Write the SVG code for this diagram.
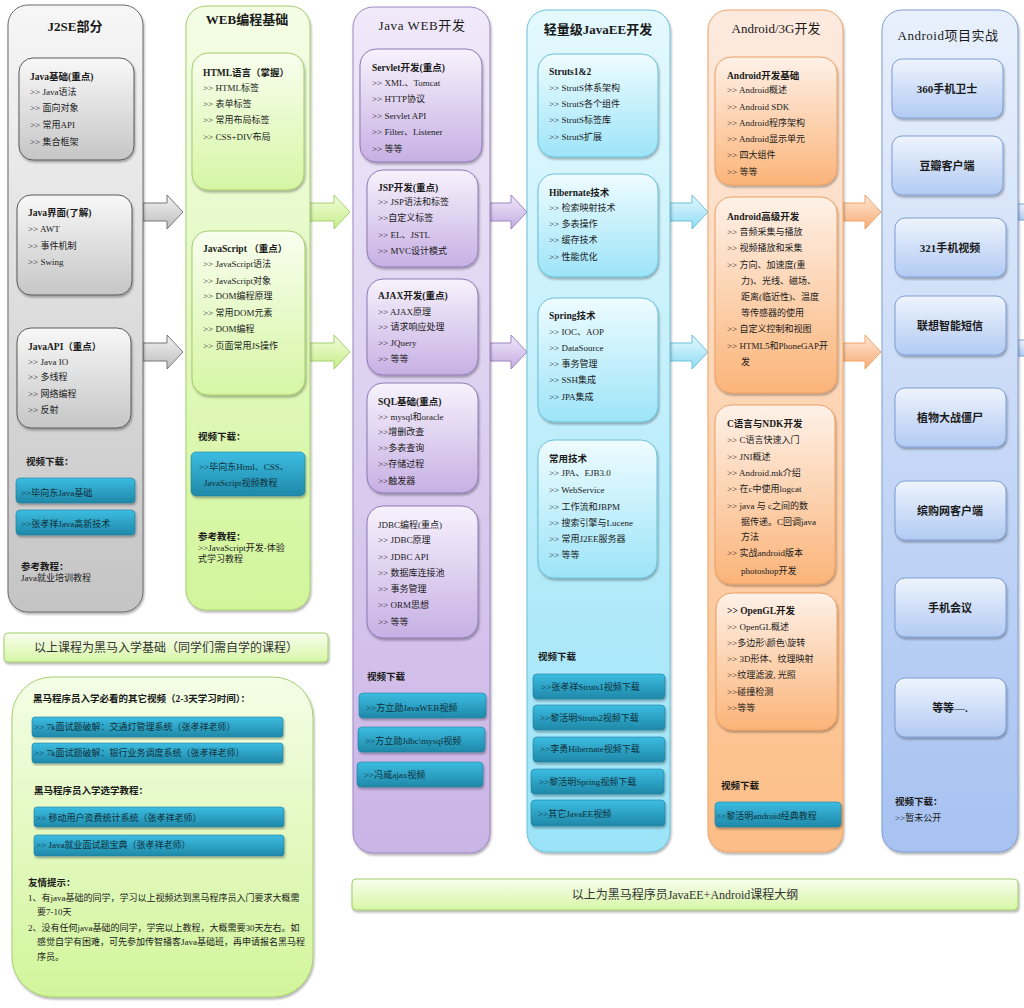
<svg xmlns="http://www.w3.org/2000/svg" width="1024" height="1008" viewBox="0 0 1024 1008">
<defs>
<linearGradient id="grayO" x1="0" y1="0" x2="0" y2="1"><stop offset="0" stop-color="#f6f6f6"/><stop offset="1" stop-color="#c4c4c4"/></linearGradient>
<linearGradient id="grayI" x1="0" y1="0" x2="0" y2="1"><stop offset="0" stop-color="#f8f8f8"/><stop offset="1" stop-color="#c6c6c6"/></linearGradient>
<linearGradient id="greenO" x1="0" y1="0" x2="0" y2="1"><stop offset="0" stop-color="#f4fde6"/><stop offset="1" stop-color="#d2f59b"/></linearGradient>
<linearGradient id="greenI" x1="0" y1="0" x2="0" y2="1"><stop offset="0" stop-color="#f9feef"/><stop offset="1" stop-color="#d6f6a5"/></linearGradient>
<linearGradient id="purpleO" x1="0" y1="0" x2="0" y2="1"><stop offset="0" stop-color="#f0e9f9"/><stop offset="1" stop-color="#c9b4e6"/></linearGradient>
<linearGradient id="purpleI" x1="0" y1="0" x2="0" y2="1"><stop offset="0" stop-color="#f7f2fc"/><stop offset="1" stop-color="#c7b0e4"/></linearGradient>
<linearGradient id="cyanO" x1="0" y1="0" x2="0" y2="1"><stop offset="0" stop-color="#e3f9fe"/><stop offset="1" stop-color="#9be3f7"/></linearGradient>
<linearGradient id="cyanI" x1="0" y1="0" x2="0" y2="1"><stop offset="0" stop-color="#eefcff"/><stop offset="1" stop-color="#9de4f8"/></linearGradient>
<linearGradient id="orangeO" x1="0" y1="0" x2="0" y2="1"><stop offset="0" stop-color="#fdeadf"/><stop offset="1" stop-color="#fcbe86"/></linearGradient>
<linearGradient id="orangeI" x1="0" y1="0" x2="0" y2="1"><stop offset="0" stop-color="#fef1e8"/><stop offset="1" stop-color="#fbb479"/></linearGradient>
<linearGradient id="blueO" x1="0" y1="0" x2="0" y2="1"><stop offset="0" stop-color="#e8f0fc"/><stop offset="1" stop-color="#a7c2f1"/></linearGradient>
<linearGradient id="blueI" x1="0" y1="0" x2="0" y2="1"><stop offset="0" stop-color="#eef4fd"/><stop offset="1" stop-color="#b2caf3"/></linearGradient>
<linearGradient id="btnG" x1="0" y1="0" x2="0" y2="1"><stop offset="0" stop-color="#3cbde2"/><stop offset="1" stop-color="#1f88a8"/></linearGradient>
<linearGradient id="aGray" x1="0" y1="0" x2="0" y2="1"><stop offset="0" stop-color="#f2f2f2"/><stop offset="1" stop-color="#bdbdbd"/></linearGradient>
<linearGradient id="aGreen" x1="0" y1="0" x2="0" y2="1"><stop offset="0" stop-color="#f2fcdc"/><stop offset="1" stop-color="#c6ee88"/></linearGradient>
<linearGradient id="aPurple" x1="0" y1="0" x2="0" y2="1"><stop offset="0" stop-color="#f1e8f9"/><stop offset="1" stop-color="#c3ace2"/></linearGradient>
<linearGradient id="aCyan" x1="0" y1="0" x2="0" y2="1"><stop offset="0" stop-color="#e6f9fe"/><stop offset="1" stop-color="#8fdcf4"/></linearGradient>
<linearGradient id="aOrange" x1="0" y1="0" x2="0" y2="1"><stop offset="0" stop-color="#fde7d6"/><stop offset="1" stop-color="#f7ad74"/></linearGradient>
<filter id="sh" x="-10%" y="-10%" width="120%" height="125%"><feDropShadow dx="1" dy="2" stdDeviation="1.2" flood-color="#000" flood-opacity="0.3"/></filter>
<style>
text{font-family:"Liberation Serif","Noto Sans CJK SC",serif;fill:#1a1a1a}
.i{font-size:9px}
.h{font-size:9.5px;font-weight:bold}
.ct{font-size:13px;text-anchor:middle}
.bt{font-size:9px;fill:#10303a}
.p{font-size:11px;font-weight:bold;text-anchor:middle}
.bn{font-size:12px;text-anchor:middle;fill:#333}
.btn{fill:url(#btnG);stroke:#1c7f9d;stroke-width:0.6;filter:url(#sh)}
.gO{fill:url(#grayO);stroke:#6a6a6a;stroke-width:1;filter:url(#sh)}
.gI{fill:url(#grayI);stroke:#5a5a5a;stroke-width:1;filter:url(#sh)}
.grO{fill:url(#greenO);stroke:#a6cf70;stroke-width:1;filter:url(#sh)}
.grI{fill:url(#greenI);stroke:#a3cc6d;stroke-width:1;filter:url(#sh)}
.pO{fill:url(#purpleO);stroke:#9c86c0;stroke-width:1;filter:url(#sh)}
.pI{fill:url(#purpleI);stroke:#8e78b6;stroke-width:1;filter:url(#sh)}
.cO{fill:url(#cyanO);stroke:#6cc1da;stroke-width:1;filter:url(#sh)}
.cI{fill:url(#cyanI);stroke:#6cbfd8;stroke-width:1;filter:url(#sh)}
.oO{fill:url(#orangeO);stroke:#eea468;stroke-width:1;filter:url(#sh)}
.oI{fill:url(#orangeI);stroke:#eca064;stroke-width:1;filter:url(#sh)}
.bO{fill:url(#blueO);stroke:#7f9fd4;stroke-width:1;filter:url(#sh)}
.bI{fill:url(#blueI);stroke:#7f9fd4;stroke-width:1;filter:url(#sh)}
.ag{fill:url(#aGray);stroke:#777}
.agr{fill:url(#aGreen);stroke:#a6cf70}
.ap{fill:url(#aPurple);stroke:#9c86c0}
.ac{fill:url(#aCyan);stroke:#6cc1da}
.ao{fill:url(#aOrange);stroke:#eea468}
.ab{fill:url(#blueI);stroke:#7f9fd4}
</style>
</defs>
<rect width="1024" height="1008" fill="#ffffff"/>

<g id="connectors">
<path class="ag" d="M143 203H167V195L183 212L167 229V221H143Z"/>
<path class="ag" d="M143 343H167V335L183 352L167 369V361H143Z"/>
<path class="agr" d="M310 203H334V195L350 212L334 229V221H310Z"/>
<path class="agr" d="M310 343H334V335L350 352L334 369V361H310Z"/>
<path class="ap" d="M490 203H511V195L527 212L511 229V221H490Z"/>
<path class="ap" d="M490 343H511V335L527 352L511 369V361H490Z"/>
<path class="ac" d="M670 203H692V195L708 212L692 229V221H670Z"/>
<path class="ac" d="M670 343H692V335L708 352L692 369V361H670Z"/>
<path class="ao" d="M843 203H865V195L881 212L865 229V221H843Z"/>
<path class="ao" d="M843 343H865V335L881 352L865 369V361H843Z"/>
<rect class="ab" x="1018" y="204" width="8" height="16"/>
<rect class="ab" x="1018" y="340" width="8" height="16"/>
</g>

<g id="col-j2se">
<rect class="gO" x="8" y="5" width="135" height="607" rx="20"/>
<text class="ct" x="75" y="31" font-weight="bold">J2SE部分</text>
<g id="j2se-basic">
<rect class="gI" x="19" y="58" width="115" height="102" rx="14"/>
<text class="h" x="30" y="80">Java基础(重点)</text>
<text class="i" x="30" y="95">&gt;&gt; Java语法</text>
<text class="i" x="30" y="111">&gt;&gt; 面向对象</text>
<text class="i" x="30" y="128">&gt;&gt; 常用API</text>
<text class="i" x="30" y="145">&gt;&gt; 集合框架</text>
</g>
<g id="j2se-gui">
<rect class="gI" x="17" y="195" width="115" height="100" rx="14"/>
<text class="h" x="28" y="216">Java界面(了解)</text>
<text class="i" x="28" y="232">&gt;&gt; AWT</text>
<text class="i" x="28" y="249">&gt;&gt; 事件机制</text>
<text class="i" x="28" y="265">&gt;&gt; Swing</text>
</g>
<g id="j2se-api">
<rect class="gI" x="17" y="328" width="114" height="100" rx="14"/>
<text class="h" x="28" y="350">JavaAPI（重点）</text>
<text class="i" x="28" y="365">&gt;&gt; Java IO</text>
<text class="i" x="28" y="380">&gt;&gt; 多线程</text>
<text class="i" x="28" y="397">&gt;&gt; 网络编程</text>
<text class="i" x="28" y="413">&gt;&gt; 反射</text>
</g>
<text class="h" x="26" y="465" font-size="9">视频下载：</text>
<rect class="btn" x="16" y="478" width="119" height="25" rx="4"/>
<text class="bt" x="21" y="496">&gt;&gt;毕向东Java基础</text>
<rect class="btn" x="16" y="510" width="119" height="25" rx="4"/>
<text class="bt" x="21" y="527">&gt;&gt;张孝祥Java高新技术</text>
<text class="h" x="21" y="570" font-size="9">参考教程：</text>
<text class="i" x="21" y="581">Java就业培训教程</text>
</g>

<g id="col-web">
<rect class="grO" x="186" y="6" width="124" height="604" rx="20"/>
<text class="ct" x="247" y="24" font-size="12" font-weight="bold">WEB编程基础</text>
<g id="web-html">
<rect class="grI" x="192" y="53" width="112" height="137" rx="16"/>
<text class="h" x="203" y="76">HTML语言（掌握）</text>
<text class="i" x="203" y="91">&gt;&gt; HTML标签</text>
<text class="i" x="203" y="107">&gt;&gt; 表单标签</text>
<text class="i" x="203" y="123">&gt;&gt; 常用布局标签</text>
<text class="i" x="203" y="140">&gt;&gt; CSS+DIV布局</text>
</g>
<g id="web-js">
<rect class="grI" x="192" y="231" width="113" height="164" rx="16"/>
<text class="h" x="203" y="252">JavaScript （重点）</text>
<text class="i" x="203" y="267">&gt;&gt; JavaScript语法</text>
<text class="i" x="203" y="284">&gt;&gt; JavaScript对象</text>
<text class="i" x="203" y="299">&gt;&gt; DOM编程原理</text>
<text class="i" x="203" y="316">&gt;&gt; 常用DOM元素</text>
<text class="i" x="203" y="332">&gt;&gt; DOM编程</text>
<text class="i" x="203" y="349">&gt;&gt; 页面常用JS操作</text>
</g>
<text class="h" x="198" y="440" font-size="9">视频下载：</text>
<rect class="btn" x="191" y="452" width="114" height="44" rx="5"/>
<text class="bt" x="199" y="470">&gt;&gt;毕向东Html、CSS、</text>
<text class="bt" x="204" y="486">JavaScript视频教程</text>
<text class="h" x="198" y="540" font-size="9">参考教程：</text>
<text class="i" x="198" y="551">&gt;&gt;JavaScript开发-体验</text>
<text class="i" x="198" y="562">式学习教程</text>
</g>

<g id="col-javaweb">
<rect class="pO" x="353" y="7" width="137" height="846" rx="20"/>
<text class="ct" x="422" y="30" font-size="13.5" letter-spacing="0.6">Java WEB开发</text>
<g id="jw-servlet">
<rect class="pI" x="360" y="49" width="122" height="113" rx="16"/>
<text class="h" x="372" y="71">Servlet开发(重点)</text>
<text class="i" x="372" y="86">&gt;&gt; XML、Tomcat</text>
<text class="i" x="372" y="102">&gt;&gt; HTTP协议</text>
<text class="i" x="372" y="119">&gt;&gt; Servlet API</text>
<text class="i" x="372" y="135">&gt;&gt; Filter、Listener</text>
<text class="i" x="372" y="152">&gt;&gt; 等等</text>
</g>
<g id="jw-jsp">
<rect class="pI" x="367" y="170" width="111" height="97" rx="16"/>
<text class="h" x="378" y="191">JSP开发(重点)</text>
<text class="i" x="378" y="205">&gt;&gt; JSP语法和标签</text>
<text class="i" x="378" y="221">&gt;&gt;自定义标签</text>
<text class="i" x="378" y="238">&gt;&gt; EL、JSTL</text>
<text class="i" x="378" y="254">&gt;&gt; MVC设计模式</text>
</g>
<g id="jw-ajax">
<rect class="pI" x="367" y="279" width="111" height="96" rx="16"/>
<text class="h" x="378" y="299">AJAX开发(重点)</text>
<text class="i" x="378" y="315">&gt;&gt; AJAX原理</text>
<text class="i" x="378" y="330">&gt;&gt; 请求响应处理</text>
<text class="i" x="378" y="346">&gt;&gt; JQuery</text>
<text class="i" x="378" y="362">&gt;&gt; 等等</text>
</g>
<g id="jw-sql">
<rect class="pI" x="367" y="383" width="111" height="110" rx="16"/>
<text class="h" x="378" y="405">SQL基础(重点)</text>
<text class="i" x="378" y="420">&gt;&gt; mysql和oracle</text>
<text class="i" x="378" y="435">&gt;&gt;增删改查</text>
<text class="i" x="378" y="451">&gt;&gt;多表查询</text>
<text class="i" x="378" y="467">&gt;&gt;存储过程</text>
<text class="i" x="378" y="484">&gt;&gt;触发器</text>
</g>
<g id="jw-jdbc">
<rect class="pI" x="367" y="506" width="111" height="132" rx="16"/>
<text class="i" x="378" y="528" font-size="9.5">JDBC编程(重点)</text>
<text class="i" x="378" y="543">&gt;&gt; JDBC原理</text>
<text class="i" x="378" y="560">&gt;&gt; JDBC API</text>
<text class="i" x="378" y="576">&gt;&gt; 数据库连接池</text>
<text class="i" x="378" y="592">&gt;&gt; 事务管理</text>
<text class="i" x="378" y="608">&gt;&gt; ORM思想</text>
<text class="i" x="378" y="625">&gt;&gt; 等等</text>
</g>
<text class="h" x="367" y="680" font-size="9">视频下载</text>
<rect class="btn" x="359" y="693" width="127" height="25" rx="4"/>
<text class="bt" x="366" y="711">&gt;&gt;方立勋JavaWEB视频</text>
<rect class="btn" x="358" y="727" width="127" height="25" rx="4"/>
<text class="bt" x="365" y="744">&gt;&gt;方立勋Jdbc\mysql视频</text>
<rect class="btn" x="357" y="762" width="126" height="25" rx="4"/>
<text class="bt" x="364" y="778">&gt;&gt;冯威ajax视频</text>
</g>

<g id="col-javaee">
<rect class="cO" x="527" y="10" width="143" height="842" rx="20"/>
<text class="ct" x="598" y="34" font-size="11.5" font-weight="bold">轻量级JavaEE开发</text>
<g id="ee-struts">
<rect class="cI" x="538" y="54" width="120" height="103" rx="16"/>
<text class="h" x="549" y="75">Struts1&amp;2</text>
<text class="i" x="549" y="91">&gt;&gt; StrutS体系架构</text>
<text class="i" x="549" y="107">&gt;&gt; StrutS各个组件</text>
<text class="i" x="549" y="123">&gt;&gt; StrutS标签库</text>
<text class="i" x="549" y="140">&gt;&gt; StrutS扩展</text>
</g>
<g id="ee-hibernate">
<rect class="cI" x="538" y="174" width="120" height="103" rx="16"/>
<text class="h" x="549" y="196">Hibernate技术</text>
<text class="i" x="549" y="211">&gt;&gt; 检索映射技术</text>
<text class="i" x="549" y="227">&gt;&gt; 多表操作</text>
<text class="i" x="549" y="243">&gt;&gt; 缓存技术</text>
<text class="i" x="549" y="260">&gt;&gt; 性能优化</text>
</g>
<g id="ee-spring">
<rect class="cI" x="538" y="298" width="120" height="124" rx="16"/>
<text class="h" x="549" y="319">Spring技术</text>
<text class="i" x="549" y="335">&gt;&gt; IOC、AOP</text>
<text class="i" x="549" y="351">&gt;&gt; DataSource</text>
<text class="i" x="549" y="367">&gt;&gt; 事务管理</text>
<text class="i" x="549" y="383">&gt;&gt; SSH集成</text>
<text class="i" x="549" y="400">&gt;&gt; JPA集成</text>
</g>
<g id="ee-common">
<rect class="cI" x="538" y="440" width="119" height="138" rx="16"/>
<text class="h" x="549" y="462">常用技术</text>
<text class="i" x="549" y="476">&gt;&gt; JPA、EJB3.0</text>
<text class="i" x="549" y="493">&gt;&gt; WebService</text>
<text class="i" x="549" y="510">&gt;&gt; 工作流和JBPM</text>
<text class="i" x="549" y="526">&gt;&gt; 搜索引擎与Lucene</text>
<text class="i" x="549" y="542">&gt;&gt; 常用J2EE服务器</text>
<text class="i" x="549" y="558">&gt;&gt; 等等</text>
</g>
<text class="h" x="538" y="660" font-size="9">视频下载</text>
<rect class="btn" x="533" y="674" width="132" height="25" rx="4"/>
<text class="bt" x="541" y="690">&gt;&gt;张孝祥Struts1视频下载</text>
<rect class="btn" x="533" y="705" width="132" height="25" rx="4"/>
<text class="bt" x="540" y="721">&gt;&gt;黎活明Struts2视频下载</text>
<rect class="btn" x="533" y="737" width="132" height="25" rx="4"/>
<text class="bt" x="540" y="752">&gt;&gt;李勇Hibernate视频下载</text>
<rect class="btn" x="531" y="769" width="133" height="25" rx="4"/>
<text class="bt" x="539" y="785">&gt;&gt;黎活明Spring视频下载</text>
<rect class="btn" x="531" y="800" width="134" height="26" rx="4"/>
<text class="bt" x="538" y="817">&gt;&gt;其它JavaEE视频</text>
</g>

<g id="col-android">
<rect class="oO" x="708" y="10" width="135" height="842" rx="20"/>
<text class="ct" x="776" y="33" font-size="13.5">Android/3G开发</text>
<g id="and-basic">
<rect class="oI" x="715" y="57" width="122" height="128" rx="16"/>
<text class="h" x="727" y="79">Android开发基础</text>
<text class="i" x="727" y="93">&gt;&gt; Android概述</text>
<text class="i" x="727" y="110">&gt;&gt; Android SDK</text>
<text class="i" x="727" y="126">&gt;&gt; Android程序架构</text>
<text class="i" x="727" y="142">&gt;&gt; Android显示单元</text>
<text class="i" x="727" y="158">&gt;&gt; 四大组件</text>
<text class="i" x="727" y="175">&gt;&gt; 等等</text>
</g>
<g id="and-advanced">
<rect class="oI" x="715" y="197" width="122" height="196" rx="16"/>
<text class="h" x="727" y="220">Android高级开发</text>
<text class="i" x="727" y="235">&gt;&gt; 音频采集与播放</text>
<text class="i" x="727" y="251">&gt;&gt; 视频播放和采集</text>
<text class="i" x="727" y="268">&gt;&gt; 方向、加速度(重</text>
<text class="i" x="741" y="284">力)、光线、磁场、</text>
<text class="i" x="741" y="300">距离(临近性)、温度</text>
<text class="i" x="741" y="316">等传感器的使用</text>
<text class="i" x="727" y="332">&gt;&gt; 自定义控制和视图</text>
<text class="i" x="727" y="349">&gt;&gt; HTML5和PhoneGAP开</text>
<text class="i" x="741" y="365">发</text>
</g>
<g id="and-ndk">
<rect class="oI" x="715" y="405" width="120" height="179" rx="16"/>
<text class="h" x="727" y="427">C语言与NDK开发</text>
<text class="i" x="727" y="443">&gt;&gt; C语言快速入门</text>
<text class="i" x="727" y="460">&gt;&gt; JNI概述</text>
<text class="i" x="727" y="476">&gt;&gt; Android.mk介绍</text>
<text class="i" x="727" y="492">&gt;&gt; 在c中使用logcat</text>
<text class="i" x="727" y="509">&gt;&gt; java 与 c之间的数</text>
<text class="i" x="741" y="525">据传递。C回调java</text>
<text class="i" x="741" y="540">方法</text>
<text class="i" x="727" y="556">&gt;&gt; 实战android版本</text>
<text class="i" x="741" y="574">photoshop开发</text>
</g>
<g id="and-opengl">
<rect class="oI" x="716" y="593" width="121" height="137" rx="16"/>
<text class="h" x="727" y="614">&gt;&gt; OpenGL开发</text>
<text class="i" x="727" y="630">&gt;&gt; OpenGL概述</text>
<text class="i" x="727" y="646">&gt;&gt;多边形\颜色\旋转</text>
<text class="i" x="727" y="662">&gt;&gt; 3D形体、纹理映射</text>
<text class="i" x="727" y="678">&gt;&gt;纹理滤波, 光照</text>
<text class="i" x="727" y="695">&gt;&gt;碰撞检测</text>
<text class="i" x="727" y="711">&gt;&gt;等等</text>
</g>
<text class="h" x="721" y="789" font-size="9">视频下载</text>
<rect class="btn" x="715" y="802" width="126" height="25" rx="4"/>
<text class="bt" x="716" y="819">&gt;&gt;黎活明android经典教程</text>
</g>

<g id="col-projects">
<rect class="bO" x="882" y="10" width="136" height="842" rx="20"/>
<text class="ct" x="948" y="40" font-size="12.5" letter-spacing="0.5">Android项目实战</text>
<g id="pr-1"><rect class="bI" x="892" y="59" width="111" height="59" rx="10"/><text class="p" x="947" y="93">360手机卫士</text></g>
<g id="pr-2"><rect class="bI" x="892" y="136" width="111" height="59" rx="10"/><text class="p" x="947" y="170">豆瓣客户端</text></g>
<g id="pr-3"><rect class="bI" x="895" y="218" width="111" height="59" rx="10"/><text class="p" x="950" y="252">321手机视频</text></g>
<g id="pr-4"><rect class="bI" x="895" y="296" width="111" height="59" rx="10"/><text class="p" x="950" y="330">联想智能短信</text></g>
<g id="pr-5"><rect class="bI" x="895" y="388" width="111" height="59" rx="10"/><text class="p" x="950" y="422">植物大战僵尸</text></g>
<g id="pr-6"><rect class="bI" x="895" y="481" width="111" height="59" rx="10"/><text class="p" x="950" y="515">缤购网客户端</text></g>
<g id="pr-7"><rect class="bI" x="895" y="578" width="111" height="59" rx="10"/><text class="p" x="950" y="612">手机会议</text></g>
<g id="pr-8"><rect class="bI" x="895" y="678" width="111" height="59" rx="10"/><text class="p" x="950" y="712">等等—.</text></g>
<text class="h" x="895" y="805" font-size="9">视频下载：</text>
<text class="i" x="895" y="821">&gt;&gt;暂未公开</text>
</g>

<g id="banner-basic">
<rect class="grI" x="4" y="633" width="324" height="29" rx="4"/>
<text class="bn" x="166" y="652">以上课程为黑马入学基础（同学们需自学的课程）</text>
</g>

<g id="panel-extra">
<rect class="grO" x="12" y="677" width="301" height="320" rx="40"/>
<text class="h" x="33" y="702" font-size="9">黑马程序员入学必看的其它视频（2-3天学习时间）：</text>
<rect class="btn" x="32" y="717" width="251" height="20" rx="3"/>
<text class="bt" x="34" y="730">&gt;&gt; 7k面试题破解：交通灯管理系统（张孝祥老师）</text>
<rect class="btn" x="32" y="743" width="251" height="20" rx="3"/>
<text class="bt" x="34" y="756">&gt;&gt; 7k面试题破解：银行业务调度系统（张孝祥老师）</text>
<text class="h" x="34" y="794" font-size="9">黑马程序员入学选学教程：</text>
<rect class="btn" x="34" y="807" width="250" height="20" rx="3"/>
<text class="bt" x="36" y="821">&gt;&gt; 移动用户资费统计系统（张孝祥老师）</text>
<rect class="btn" x="34" y="835" width="250" height="21" rx="3"/>
<text class="bt" x="36" y="848">&gt;&gt; Java就业面试题宝典（张孝祥老师）</text>
<text class="h" x="28" y="886" font-size="9">友情提示：</text>
<text class="i" x="28" y="901">1、有java基础的同学，学习以上视频达到黑马程序员入门要求大概需</text>
<text class="i" x="37" y="915">要7-10天</text>
<text class="i" x="28" y="931">2、没有任何java基础的同学，学完以上教程，大概需要30天左右。如</text>
<text class="i" x="37" y="945">感觉自学有困难，可先参加传智播客Java基础班，再申请报名黑马程</text>
<text class="i" x="37" y="960">序员。</text>
</g>

<g id="banner-outline">
<rect class="grI" x="352" y="879" width="666" height="31" rx="4"/>
<text class="bn" x="685" y="899">以上为黑马程序员JavaEE+Android课程大纲</text>
</g>
</svg>
